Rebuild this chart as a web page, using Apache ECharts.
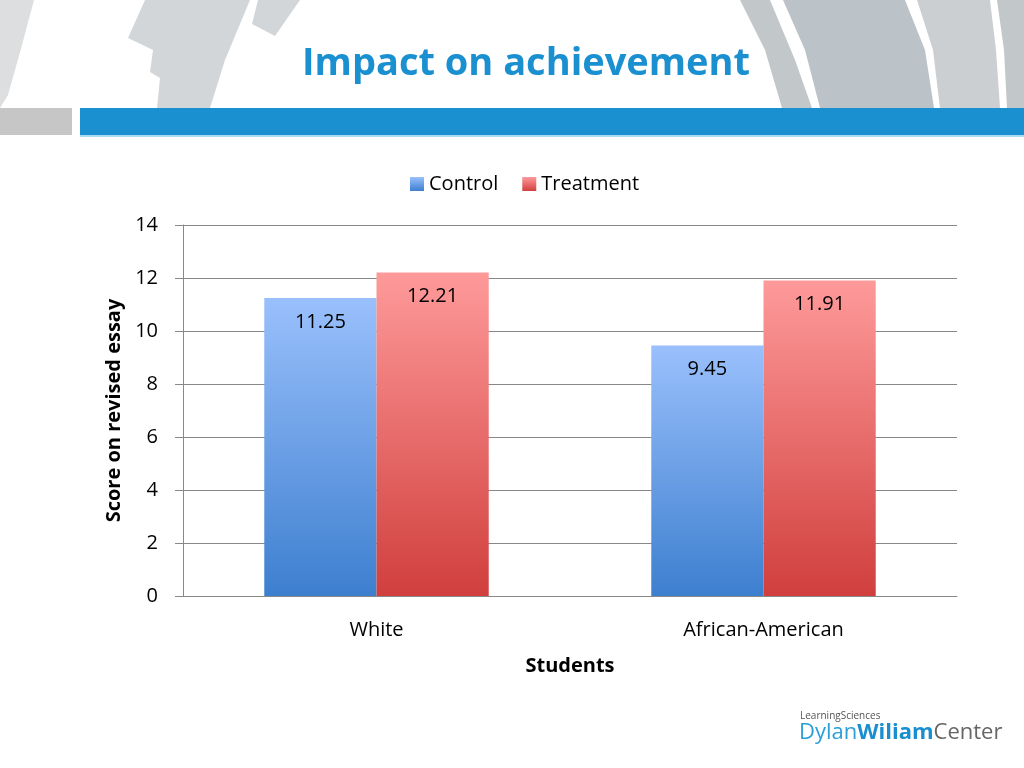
<!DOCTYPE html>
<html>
<head>
<meta charset="utf-8">
<script src="https://cdn.jsdelivr.net/npm/echarts@6/dist/echarts.min.js"></script>
<style>
  html, body { margin: 0; padding: 0; background: #fff; }
  #chart { width: 1024px; height: 768px; }
</style>
</head>
<body>
<div id="chart"></div>
<script>
// --- data ---
const categories = ["White", "African-American"];
const controlScores = [11.25, 9.45];
const treatmentScores = [12.21, 11.91];
const seriesNames = ["Control", "Treatment"];

const FONT = "'Open Sans', 'Noto Sans', sans-serif";

const chart = echarts.init(document.getElementById("chart"), null, { renderer: "canvas" });

function grad(top, bottom) {
  return new echarts.graphic.LinearGradient(0, 0, 0, 1, [
    { offset: 0, color: top },
    { offset: 1, color: bottom },
  ]);
}

// slide decoration (grey arcs, title band, logo)
const grey = "#d3d6d8";
const greyDark = "#c2c7ca";
const deco = [
  // left strips
  { type: "polygon", shape: { points: [[0, 0], [34, 0], [22, 45], [8, 95], [0, 108]] }, style: { fill: "#dcdedf" } },
  { type: "polygon", shape: { points: [[145, 0], [250, 0], [225, 60], [210, 108], [157, 108], [160, 78], [150, 72], [153, 50], [128, 38]] }, style: { fill: grey } },
  { type: "polygon", shape: { points: [[258, 0], [300, 0], [275, 36], [252, 24]] }, style: { fill: grey } },
  // right strips
  { type: "polygon", shape: { points: [[740, 0], [770, 0], [795, 60], [812, 108], [782, 108], [765, 50]] }, style: { fill: greyDark } },
  { type: "polygon", shape: { points: [[783, 0], [905, 0], [925, 50], [934, 108], [820, 108], [805, 50]] }, style: { fill: "#bcc3c8" } },
  { type: "polygon", shape: { points: [[917, 0], [990, 0], [996, 50], [1000, 108], [940, 108], [933, 50]] }, style: { fill: "#cbcfd2" } },
  { type: "polygon", shape: { points: [[997, 0], [1024, 0], [1024, 108], [1007, 108], [1004, 50]] }, style: { fill: greyDark } },
  // band
  { type: "rect", shape: { x: 0, y: 108, width: 72, height: 27 }, style: { fill: "#c6c6c6" } },
  { type: "rect", shape: { x: 80, y: 108, width: 944, height: 27 }, style: { fill: "#1a90d0" } },
  { type: "rect", shape: { x: 80, y: 135, width: 944, height: 2 }, style: { fill: "#a9dcf2" } },
  // title
  {
    type: "text", left: 302, top: 45,
    style: { text: "Impact on achievement", fill: "#1a90d0", font: "bold 38px " + FONT },
  },
  // logo
  {
    type: "text", left: 800, top: 711,
    style: { text: "LearningSciences", fill: "#555", font: "10px " + FONT },
  },
  {
    type: "text", left: 799, top: 722,
    style: {
      text: "{a|Dylan}{b|Wiliam}{c|Center}",
      rich: {
        a: { fill: "#2a9fd8", font: "22px " + FONT },
        b: { fill: "#1a8fd0", font: "bold 22px " + FONT },
        c: { fill: "#666", font: "22px " + FONT },
      },
    },
  },
];

const option = {
  backgroundColor: "#fff",
  animation: false,
  textStyle: { fontFamily: FONT },
  graphic: deco,
  legend: {
    left: 405, top: 169,
    itemWidth: 14, itemHeight: 14, itemGap: 24,
    icon: "rect",
    textStyle: { fontSize: 20, color: "#000", fontFamily: FONT },
    data: seriesNames,
  },
  grid: { left: 183, right: 67, top: 225, bottom: 172 },
  xAxis: {
    type: "category",
    data: categories,
    name: "Students",
    nameLocation: "middle",
    nameGap: 60,
    nameTextStyle: { fontSize: 20, fontWeight: "bold", color: "#000", fontFamily: FONT },
    axisLine: { lineStyle: { color: "#888" } },
    axisTick: { length: 8, lineStyle: { color: "#888" } },
    axisLabel: { fontSize: 20, color: "#000", margin: 24, fontFamily: FONT },
  },
  yAxis: {
    type: "value",
    min: 0, max: 14, interval: 2,
    name: "Score on revised essay",
    nameLocation: "middle",
    nameGap: 57,
    nameTextStyle: { fontSize: 20, fontWeight: "bold", color: "#000", fontFamily: FONT },
    axisLine: { show: true, lineStyle: { color: "#888" } },
    axisTick: { show: true, length: 8, lineStyle: { color: "#888" } },
    axisLabel: { fontSize: 20, color: "#000", margin: 25, fontFamily: FONT },
    splitLine: { lineStyle: { color: "#888" } },
  },
  series: [
    {
      name: seriesNames[0],
      type: "bar",
      data: controlScores,
      barGap: "0%",
      barCategoryGap: "42%",
      itemStyle: { color: grad("#9ac0fc", "#3d7fcf") },
      label: { show: true, position: "insideTop", distance: 14, fontSize: 20, color: "#000", fontFamily: FONT },
    },
    {
      name: seriesNames[1],
      type: "bar",
      data: treatmentScores,
      itemStyle: { color: grad("#fe9a9a", "#d03f3d") },
      label: { show: true, position: "insideTop", distance: 14, fontSize: 20, color: "#000", fontFamily: FONT },
    },
  ],
};

chart.setOption(option);
</script>
</body>
</html>
